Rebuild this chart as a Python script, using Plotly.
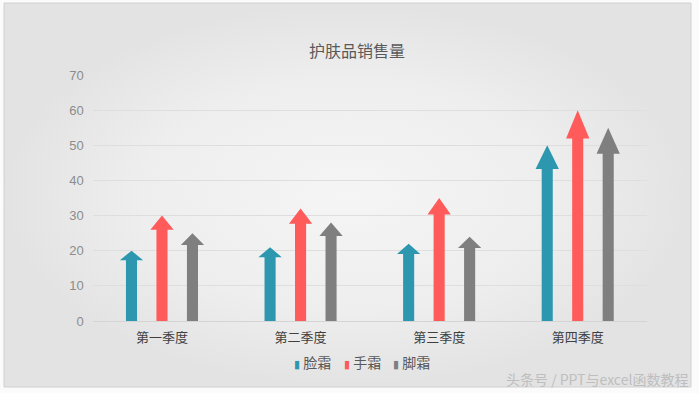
import plotly.graph_objects as go

W, H = 699, 393

categories = ["第一季度", "第二季度", "第三季度", "第四季度"]
series_names = ["脸霜", "手霜", "脚霜"]
face_cream = [20, 21, 22, 50]
hand_cream = [30, 32, 35, 60]
foot_cream = [25, 28, 24, 55]
series_values = [face_cream, hand_cream, foot_cream]
colors = ["#2C97AF", "#FF5B5B", "#7F7F7F"]
y_ticks = [0, 10, 20, 30, 40, 50, 60, 70]

offsets = [-0.22, 0.0, 0.22]
shaft_w = 0.08
head_w = 0.168
head_frac = 0.135

# plot area in pixels
pl, pr, pt, pb = 92.7, 647.0, 75.0, 321.0

fig = go.Figure()

# background card with radial gradient (decoration, on a full-page helper axis)
cx0, cx1, cy0, cy1 = 4, 691, 3, 387
fig.add_trace(go.Scatter(
    x=[cx0, cx1, cx1, cx0, cx0], y=[cy0, cy0, cy1, cy1, cy0],
    mode="lines", fill="toself",
    line=dict(color="#D0D0D0", width=1),
    fillgradient=dict(type="radial", colorscale=[[0, "#F5F5F5"], [0.6, "#EEEEEE"], [1, "#E3E3E3"]]),
    hoverinfo="skip", showlegend=False, xaxis="x", yaxis="y"))

# arrows
for name, vals, col, off in zip(series_names, series_values, colors, offsets):
    xs, ys = [], []
    for i, v in enumerate(vals):
        c = i + off
        hb = v * (1 - head_frac)
        xs += [c - shaft_w / 2, c + shaft_w / 2, c + shaft_w / 2, c + head_w / 2, c,
               c - head_w / 2, c - shaft_w / 2, c - shaft_w / 2, None]
        ys += [0, 0, hb, hb, v, hb, hb, 0, None]
    fig.add_trace(go.Scatter(
        x=xs, y=ys, mode="lines", fill="toself", fillcolor=col, name=name,
        line=dict(color=col, width=0), hoverinfo="skip", showlegend=False,
        xaxis="x2", yaxis="y2"))

# legend drawn as text: coloured bar glyph + series name
legend_x = [312, 362, 411]
legend_anns = []
for name, col, lx in zip(series_names, colors, legend_x):
    legend_anns.append(dict(
        text=f'<span style="color:{col};font-size:11px">▮</span> {name}',
        x=lx / W, y=1 - 362 / H, xref="paper", yref="paper", xanchor="center", yanchor="middle",
        showarrow=False, font=dict(size=14, color="#595959", family="Noto Sans CJK SC")))

fig.update_layout(
    width=W, height=H,
    margin=dict(l=0, r=0, t=0, b=0, autoexpand=False),
    paper_bgcolor="#FBFBFB",
    plot_bgcolor="rgba(0,0,0,0)",
    showlegend=False,
    font=dict(family="Liberation Sans, Noto Sans CJK SC", color="#595959"),
    xaxis=dict(domain=[0, 1], range=[0, W], visible=False, fixedrange=True),
    yaxis=dict(domain=[0, 1], range=[H, 0], visible=False, fixedrange=True),
    xaxis2=dict(domain=[pl / W, pr / W], anchor="y2", range=[-0.5, 3.5],
                tickvals=list(range(len(categories))), ticktext=categories,
                showgrid=False, zeroline=False, showline=False, ticks="",
                ticklabelstandoff=7,
                tickfont=dict(size=13, color="#404040", family="Noto Sans CJK SC")),
    yaxis2=dict(domain=[1 - pb / H, 1 - pt / H], anchor="x2", range=[0, 70],
                tickvals=y_ticks, showgrid=True, gridcolor="#DEDEDE", gridwidth=1,
                zeroline=True, zerolinecolor="#D4D4D4", zerolinewidth=1,
                showline=False, ticks="", ticklabelstandoff=8,
                tickfont=dict(size=13, color="#8C8C8C")),
    annotations=[
        dict(text="护肤品销售量", x=357 / W, y=1 - 50 / H, xref="paper", yref="paper",
             yanchor="middle", showarrow=False,
             font=dict(size=16, color="#595959", family="Noto Sans CJK SC")),
        dict(text="头条号 / PPT与excel函数教程", x=690 / W, y=1 - 379 / H, xref="paper", yref="paper",
             xanchor="right", yanchor="middle", showarrow=False,
             font=dict(size=14, color="#BEBEBE", family="Noto Sans CJK SC")),
    ] + legend_anns,
)

fig.write_html("out.html")
